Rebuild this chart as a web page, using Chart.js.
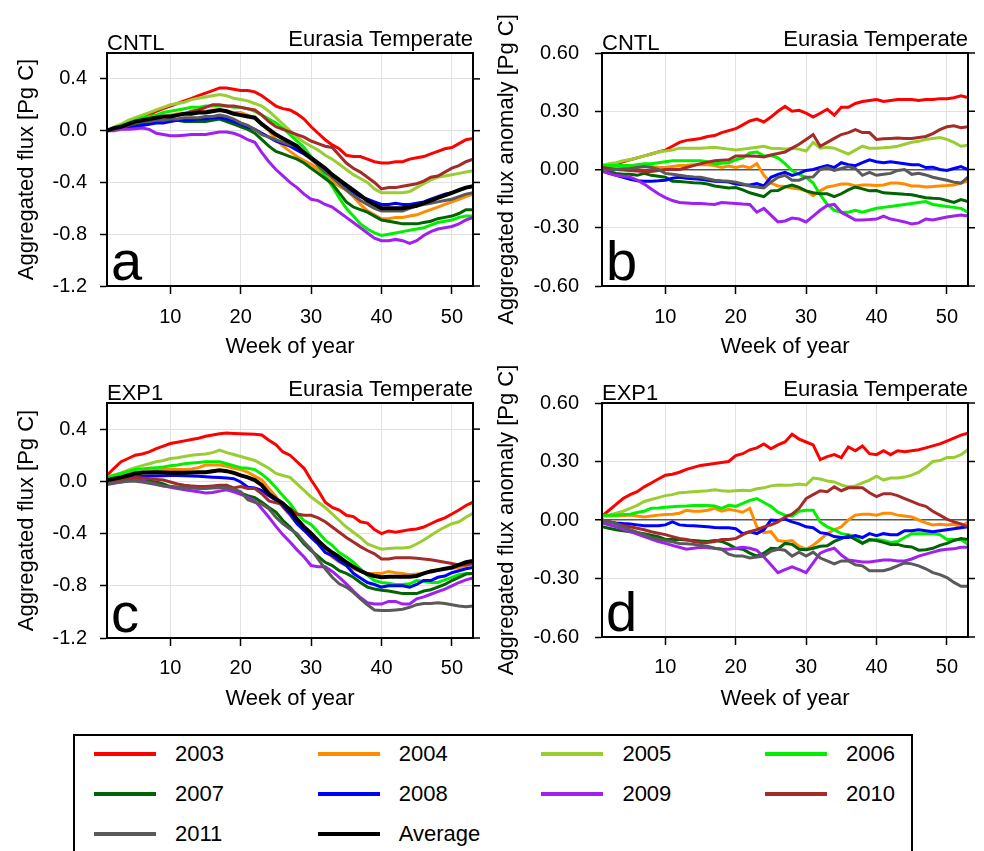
<!DOCTYPE html>
<html><head><meta charset="utf-8">
<script src="https://cdn.jsdelivr.net/npm/chart.js"></script>
<style>
html,body{margin:0;padding:0;background:#fff;}
body{width:984px;height:851px;position:relative;overflow:hidden;font-family:'Liberation Sans',Arial,sans-serif;}
.pc{position:absolute;width:492px;height:370px;}
#legend{position:absolute;left:73px;top:734px;width:840px;height:150px;border:2px solid #000;box-sizing:border-box;}
.sw{position:absolute;width:62px;height:4px;}
.lt{position:absolute;font-size:22px;line-height:26px;color:#000;white-space:nowrap;}
</style></head><body>
<div class="pc" style="left:0;top:0"><canvas id="ca" width="492" height="370"></canvas></div>
<div class="pc" style="left:492px;top:0"><canvas id="cb" width="492" height="370"></canvas></div>
<div class="pc" style="left:0;top:350px"><canvas id="cc" width="492" height="370"></canvas></div>
<div class="pc" style="left:492px;top:350px"><canvas id="cd" width="492" height="370"></canvas></div>
<div id="legend"></div>
<script>
const weeks = [1,2,3,4,5,6,7,8,9,10,11,12,13,14,15,16,17,18,19,20,21,22,23,24,25,26,27,28,29,30,31,32,33,34,35,36,37,38,39,40,41,42,43,44,45,46,47,48,49,50,51,52,53];
const names = ['2003','2004','2005','2006','2007','2008','2009','2010','2011','Average'];
const colors = ['#ff0000','#ff8c00','#9acd32','#00f000','#006400','#0000ff','#a020f0','#a52a2a','#5a5a5a','#000000'];
const weekTicks = [10,20,30,40,50];
const fluxTicks = [-1.2,-0.8,-0.4,0.0,0.4];
const anomTicks = [-0.6,-0.3,0.0,0.3,0.6];

// Panel a: CNTL aggregated flux
const a2003 = [0.00,0.02,0.04,0.06,0.08,0.10,0.12,0.15,0.17,0.19,
 0.21,0.23,0.25,0.27,0.29,0.31,0.33,0.33,0.32,0.31,
 0.31,0.30,0.27,0.23,0.19,0.17,0.16,0.13,0.09,0.03,
 -0.02,-0.07,-0.11,-0.14,-0.19,-0.20,-0.20,-0.22,-0.24,-0.25,
 -0.25,-0.24,-0.24,-0.22,-0.21,-0.20,-0.18,-0.16,-0.14,-0.13,
 -0.10,-0.07,-0.06];
const a2004 = [0.00,0.02,0.04,0.06,0.07,0.08,0.09,0.10,0.11,0.12,
 0.13,0.13,0.14,0.15,0.15,0.16,0.16,0.15,0.14,0.14,
 0.12,0.10,0.05,0.00,-0.07,-0.12,-0.16,-0.20,-0.23,-0.26,
 -0.30,-0.35,-0.39,-0.43,-0.46,-0.51,-0.57,-0.62,-0.65,-0.68,
 -0.68,-0.67,-0.67,-0.66,-0.65,-0.63,-0.61,-0.59,-0.57,-0.55,
 -0.53,-0.51,-0.49];
const a2005 = [0.00,0.03,0.05,0.08,0.10,0.12,0.14,0.16,0.18,0.20,
 0.21,0.22,0.24,0.25,0.26,0.27,0.28,0.27,0.25,0.24,
 0.23,0.21,0.19,0.15,0.10,0.05,0.00,-0.05,-0.09,-0.12,
 -0.15,-0.19,-0.22,-0.26,-0.30,-0.34,-0.37,-0.40,-0.45,-0.48,
 -0.48,-0.48,-0.48,-0.47,-0.44,-0.41,-0.38,-0.36,-0.35,-0.34,
 -0.33,-0.32,-0.31];
const a2006 = [0.00,0.02,0.04,0.06,0.08,0.10,0.11,0.12,0.14,0.15,
 0.16,0.17,0.18,0.18,0.19,0.19,0.19,0.19,0.18,0.18,
 0.17,0.15,0.12,0.09,0.06,0.02,-0.03,-0.08,-0.13,-0.20,
 -0.27,-0.35,-0.43,-0.52,-0.60,-0.66,-0.72,-0.76,-0.79,-0.81,
 -0.80,-0.79,-0.78,-0.77,-0.76,-0.75,-0.73,-0.71,-0.70,-0.69,
 -0.67,-0.66,-0.66];
const a2007 = [0.00,0.01,0.03,0.04,0.05,0.06,0.07,0.07,0.08,0.08,
 0.08,0.07,0.07,0.07,0.07,0.08,0.09,0.07,0.05,0.03,
 0.01,-0.02,-0.07,-0.12,-0.16,-0.18,-0.20,-0.22,-0.25,-0.29,
 -0.33,-0.37,-0.41,-0.48,-0.55,-0.59,-0.61,-0.63,-0.66,-0.69,
 -0.70,-0.71,-0.72,-0.72,-0.72,-0.71,-0.70,-0.68,-0.67,-0.66,
 -0.64,-0.61,-0.61];
const a2008 = [0.00,0.01,0.02,0.02,0.03,0.04,0.05,0.06,0.06,0.07,
 0.08,0.08,0.08,0.09,0.09,0.10,0.10,0.09,0.07,0.05,
 0.03,0.01,-0.02,-0.05,-0.08,-0.10,-0.12,-0.15,-0.18,-0.22,
 -0.26,-0.31,-0.36,-0.40,-0.44,-0.48,-0.51,-0.53,-0.55,-0.57,
 -0.57,-0.56,-0.57,-0.57,-0.56,-0.55,-0.53,-0.51,-0.49,-0.48,
 -0.46,-0.44,-0.43];
const a2009 = [0.00,0.00,0.01,0.01,0.015,0.02,0.01,-0.02,-0.03,-0.04,
 -0.04,-0.035,-0.03,-0.03,-0.03,-0.02,-0.01,-0.01,-0.02,-0.04,
 -0.07,-0.09,-0.17,-0.24,-0.30,-0.35,-0.40,-0.44,-0.49,-0.53,
 -0.54,-0.57,-0.59,-0.63,-0.67,-0.71,-0.75,-0.79,-0.83,-0.85,
 -0.85,-0.84,-0.85,-0.87,-0.85,-0.81,-0.78,-0.76,-0.75,-0.74,
 -0.72,-0.69,-0.67];
const a2010 = [0.00,0.01,0.03,0.05,0.07,0.08,0.09,0.10,0.11,0.11,
 0.12,0.13,0.15,0.16,0.18,0.20,0.20,0.19,0.19,0.18,
 0.17,0.16,0.12,0.07,0.03,0.01,-0.01,-0.03,-0.05,-0.08,
 -0.10,-0.12,-0.13,-0.19,-0.25,-0.29,-0.32,-0.36,-0.40,-0.45,
 -0.44,-0.44,-0.43,-0.42,-0.41,-0.39,-0.36,-0.35,-0.32,-0.29,
 -0.27,-0.24,-0.22];
const a2011 = [0.00,0.01,0.03,0.04,0.06,0.07,0.07,0.08,0.08,0.09,
 0.09,0.10,0.10,0.10,0.11,0.11,0.12,0.11,0.09,0.06,
 0.04,0.01,-0.03,-0.05,-0.07,-0.09,-0.11,-0.12,-0.17,-0.22,
 -0.27,-0.32,-0.36,-0.41,-0.46,-0.50,-0.54,-0.57,-0.60,-0.62,
 -0.62,-0.62,-0.62,-0.60,-0.58,-0.57,-0.56,-0.55,-0.54,-0.53,
 -0.51,-0.49,-0.48];
const aAvg = [0.00,0.02,0.03,0.05,0.07,0.08,0.09,0.10,0.11,0.11,
 0.12,0.13,0.13,0.14,0.14,0.15,0.16,0.15,0.13,0.12,
 0.11,0.10,0.05,0.01,-0.03,-0.06,-0.09,-0.12,-0.17,-0.21,
 -0.25,-0.29,-0.34,-0.38,-0.42,-0.46,-0.50,-0.54,-0.57,-0.60,
 -0.60,-0.60,-0.60,-0.59,-0.58,-0.56,-0.54,-0.52,-0.50,-0.48,
 -0.46,-0.44,-0.43];

// Panel b: CNTL aggregated flux anomaly
const b2003 = [0.02,0.025,0.03,0.04,0.05,0.06,0.07,0.08,0.09,0.10,
 0.12,0.14,0.15,0.155,0.16,0.17,0.175,0.19,0.20,0.21,
 0.23,0.25,0.26,0.245,0.27,0.30,0.325,0.30,0.305,0.29,
 0.27,0.29,0.31,0.28,0.32,0.32,0.34,0.35,0.355,0.36,
 0.35,0.355,0.36,0.36,0.36,0.355,0.36,0.36,0.365,0.365,
 0.37,0.38,0.37];
const b2004 = [0.02,0.015,0.015,0.01,0.01,0.012,0.015,0.015,0.012,0.01,
 0.015,0.02,0.022,0.025,0.025,0.025,0.02,0.01,0.018,0.01,
 0.018,0.008,0.03,-0.03,-0.07,-0.085,-0.088,-0.095,-0.10,-0.11,
 -0.135,-0.11,-0.09,-0.083,-0.075,-0.075,-0.085,-0.08,-0.08,-0.083,
 -0.08,-0.07,-0.07,-0.075,-0.085,-0.085,-0.09,-0.088,-0.085,-0.083,
 -0.08,-0.07,-0.06];
const b2005 = [0.02,0.03,0.035,0.045,0.05,0.06,0.07,0.08,0.09,0.095,
 0.10,0.11,0.11,0.11,0.11,0.112,0.115,0.11,0.105,0.10,
 0.105,0.11,0.115,0.12,0.11,0.108,0.105,0.11,0.105,0.095,
 0.14,0.11,0.115,0.11,0.095,0.08,0.10,0.12,0.11,0.11,
 0.112,0.115,0.12,0.13,0.14,0.145,0.155,0.16,0.165,0.155,
 0.14,0.12,0.125];
const b2006 = [0.02,0.02,0.02,0.02,0.02,0.025,0.03,0.03,0.035,0.04,
 0.045,0.045,0.045,0.045,0.045,0.04,0.03,0.032,0.035,0.05,
 0.06,0.085,0.09,0.07,0.072,0.06,0.03,-0.005,-0.025,-0.04,
 -0.07,-0.13,-0.18,-0.21,-0.22,-0.22,-0.21,-0.22,-0.21,-0.20,
 -0.195,-0.19,-0.185,-0.18,-0.175,-0.17,-0.165,-0.18,-0.185,-0.19,
 -0.195,-0.20,-0.22];
const b2007 = [0.0,-0.01,-0.02,-0.025,-0.025,-0.03,-0.02,-0.03,-0.035,-0.04,
 -0.06,-0.062,-0.065,-0.068,-0.07,-0.075,-0.085,-0.09,-0.095,-0.093,
 -0.105,-0.12,-0.13,-0.14,-0.11,-0.108,-0.09,-0.08,-0.092,-0.11,
 -0.12,-0.125,-0.125,-0.14,-0.125,-0.105,-0.09,-0.10,-0.11,-0.108,
 -0.12,-0.122,-0.125,-0.128,-0.13,-0.138,-0.145,-0.148,-0.15,-0.16,
 -0.17,-0.155,-0.165];
const b2008 = [-0.005,-0.02,-0.03,-0.04,-0.05,-0.058,-0.06,-0.06,-0.058,-0.055,
 -0.045,-0.04,-0.045,-0.048,-0.05,-0.055,-0.06,-0.062,-0.065,-0.075,
 -0.078,-0.08,-0.072,-0.085,-0.04,-0.025,-0.015,-0.03,-0.02,-0.005,
 0.0,0.01,0.02,0.01,0.035,0.025,0.02,0.035,0.05,0.04,
 0.035,0.04,0.035,0.03,0.025,0.025,0.01,0.012,0.0,-0.005,
 0.005,0.015,0.0];
const b2009 = [-0.01,-0.02,-0.03,-0.035,-0.04,-0.055,-0.075,-0.10,-0.125,-0.145,
 -0.16,-0.17,-0.172,-0.175,-0.175,-0.178,-0.18,-0.17,-0.172,-0.175,
 -0.178,-0.18,-0.22,-0.20,-0.235,-0.27,-0.265,-0.25,-0.255,-0.27,
 -0.24,-0.21,-0.185,-0.18,-0.22,-0.24,-0.26,-0.26,-0.258,-0.255,
 -0.24,-0.255,-0.262,-0.27,-0.28,-0.275,-0.255,-0.26,-0.252,-0.245,
 -0.24,-0.235,-0.24];
const b2010 = [0.01,0.005,0.0,-0.003,-0.005,-0.008,-0.01,-0.01,-0.005,0.0,
 0.0,0.0,0.01,0.02,0.03,0.038,0.045,0.048,0.05,0.07,
 0.07,0.07,0.068,0.065,0.075,0.082,0.09,0.11,0.13,0.155,
 0.18,0.12,0.14,0.16,0.18,0.19,0.205,0.19,0.19,0.155,
 0.158,0.16,0.162,0.16,0.16,0.165,0.17,0.185,0.205,0.22,
 0.225,0.215,0.22];
const b2011 = [-0.005,-0.003,0.0,0.003,0.005,0.01,0.015,0.01,0.0,-0.02,
 -0.025,-0.03,-0.035,-0.038,-0.04,-0.048,-0.055,-0.058,-0.06,-0.065,
 -0.075,-0.085,-0.09,-0.095,-0.065,-0.04,-0.03,-0.055,-0.055,-0.04,
 -0.038,0.0,0.01,-0.005,0.005,0.015,0.005,-0.03,-0.015,-0.03,
 -0.025,-0.02,-0.005,0.0,-0.025,-0.02,-0.028,-0.04,-0.048,-0.055,
 -0.065,-0.07,-0.04];

// Panel c: EXP1 aggregated flux
const c2003 = [0.045,0.10,0.15,0.175,0.20,0.21,0.225,0.25,0.27,0.29,
 0.30,0.31,0.32,0.33,0.345,0.355,0.365,0.37,0.367,0.365,
 0.362,0.36,0.355,0.315,0.28,0.225,0.20,0.15,0.10,0.01,
 -0.07,-0.16,-0.20,-0.22,-0.26,-0.27,-0.31,-0.32,-0.37,-0.40,
 -0.38,-0.39,-0.38,-0.37,-0.365,-0.35,-0.325,-0.30,-0.28,-0.25,
 -0.22,-0.185,-0.16];
const c2004 = [0.03,0.04,0.05,0.06,0.07,0.075,0.08,0.085,0.09,0.09,
 0.09,0.09,0.095,0.105,0.125,0.125,0.125,0.115,0.10,0.09,
 0.07,0.04,0.01,-0.055,-0.115,-0.20,-0.26,-0.325,-0.375,-0.43,
 -0.48,-0.53,-0.58,-0.62,-0.645,-0.67,-0.69,-0.705,-0.705,-0.705,
 -0.69,-0.70,-0.705,-0.715,-0.71,-0.705,-0.685,-0.68,-0.67,-0.665,
 -0.66,-0.645,-0.635];
const c2005 = [0.03,0.05,0.065,0.085,0.105,0.12,0.135,0.15,0.16,0.175,
 0.18,0.19,0.20,0.205,0.21,0.22,0.24,0.22,0.205,0.19,
 0.175,0.16,0.13,0.10,0.06,0.045,0.03,-0.02,-0.07,-0.12,
 -0.16,-0.20,-0.25,-0.30,-0.35,-0.39,-0.43,-0.48,-0.50,-0.52,
 -0.515,-0.51,-0.51,-0.505,-0.48,-0.45,-0.415,-0.38,-0.35,-0.325,
 -0.31,-0.275,-0.245];
const c2006 = [0.03,0.045,0.06,0.075,0.09,0.095,0.10,0.105,0.11,0.12,
 0.125,0.135,0.14,0.145,0.15,0.15,0.15,0.135,0.12,0.105,
 0.10,0.09,0.055,0.01,-0.05,-0.11,-0.17,-0.245,-0.30,-0.33,
 -0.39,-0.45,-0.49,-0.545,-0.58,-0.62,-0.67,-0.72,-0.76,-0.775,
 -0.78,-0.79,-0.79,-0.785,-0.76,-0.765,-0.775,-0.775,-0.755,-0.735,
 -0.715,-0.705,-0.705];
const c2007 = [-0.02,-0.01,0.0,0.005,0.01,0.005,0.0,-0.005,-0.02,-0.04,
 -0.045,-0.045,-0.045,-0.042,-0.04,-0.04,-0.04,-0.05,-0.065,-0.09,
 -0.11,-0.125,-0.16,-0.20,-0.235,-0.30,-0.35,-0.415,-0.48,-0.53,
 -0.575,-0.62,-0.645,-0.685,-0.705,-0.735,-0.775,-0.81,-0.825,-0.835,
 -0.84,-0.85,-0.86,-0.86,-0.86,-0.84,-0.83,-0.81,-0.79,-0.76,
 -0.735,-0.71,-0.705];
const c2008 = [0.01,0.015,0.02,0.025,0.035,0.037,0.04,0.04,0.042,0.045,
 0.045,0.042,0.04,0.038,0.035,0.032,0.03,0.025,0.02,-0.005,
 -0.045,-0.05,-0.07,-0.11,-0.145,-0.19,-0.25,-0.325,-0.375,-0.43,
 -0.48,-0.545,-0.57,-0.61,-0.645,-0.705,-0.74,-0.775,-0.79,-0.81,
 -0.80,-0.80,-0.80,-0.81,-0.79,-0.76,-0.76,-0.735,-0.725,-0.70,
 -0.685,-0.67,-0.66];
const c2009 = [-0.025,-0.015,-0.005,0.005,0.01,0.0,-0.01,-0.02,-0.035,-0.045,
 -0.055,-0.065,-0.072,-0.08,-0.09,-0.085,-0.075,-0.065,-0.08,-0.10,
 -0.12,-0.15,-0.21,-0.275,-0.345,-0.41,-0.465,-0.525,-0.58,-0.645,
 -0.655,-0.655,-0.69,-0.735,-0.785,-0.84,-0.89,-0.93,-0.94,-0.94,
 -0.92,-0.92,-0.94,-0.94,-0.90,-0.885,-0.865,-0.845,-0.825,-0.80,
 -0.775,-0.755,-0.74];
const c2010 = [0.0,0.005,0.01,0.02,0.03,0.025,0.02,0.015,0.01,-0.005,
 -0.02,-0.03,-0.035,-0.04,-0.04,-0.035,-0.03,-0.03,-0.05,-0.04,
 -0.055,-0.055,-0.095,-0.15,-0.165,-0.175,-0.21,-0.25,-0.26,-0.26,
 -0.28,-0.31,-0.35,-0.39,-0.43,-0.465,-0.50,-0.53,-0.555,-0.595,
 -0.595,-0.585,-0.585,-0.585,-0.59,-0.595,-0.60,-0.61,-0.62,-0.63,
 -0.64,-0.64,-0.63];
const c2011 = [-0.02,-0.01,-0.005,0.0,0.0,-0.005,-0.015,-0.025,-0.035,-0.04,
 -0.045,-0.05,-0.052,-0.055,-0.055,-0.052,-0.05,-0.05,-0.06,-0.08,
 -0.14,-0.16,-0.175,-0.21,-0.275,-0.325,-0.365,-0.40,-0.465,-0.52,
 -0.595,-0.67,-0.735,-0.785,-0.81,-0.85,-0.90,-0.945,-0.985,-0.99,
 -0.99,-0.985,-0.98,-0.965,-0.945,-0.935,-0.935,-0.93,-0.935,-0.945,
 -0.955,-0.96,-0.955];
const cAvg = [0.01,0.02,0.03,0.045,0.06,0.065,0.068,0.07,0.068,0.065,
 0.065,0.065,0.068,0.07,0.07,0.078,0.085,0.078,0.065,0.045,
 0.03,0.01,-0.03,-0.095,-0.135,-0.17,-0.22,-0.29,-0.35,-0.40,
 -0.455,-0.505,-0.545,-0.58,-0.62,-0.655,-0.685,-0.71,-0.725,-0.735,
 -0.73,-0.73,-0.73,-0.73,-0.725,-0.705,-0.69,-0.68,-0.67,-0.66,
 -0.64,-0.62,-0.61];

// Panel d: EXP1 aggregated flux anomaly
const d2003 = [0.02,0.05,0.08,0.11,0.13,0.145,0.17,0.19,0.21,0.23,
 0.235,0.245,0.26,0.27,0.28,0.285,0.29,0.295,0.30,0.33,
 0.34,0.36,0.37,0.39,0.365,0.385,0.40,0.44,0.415,0.40,
 0.385,0.31,0.325,0.335,0.32,0.375,0.355,0.38,0.34,0.335,
 0.355,0.335,0.355,0.35,0.355,0.36,0.37,0.38,0.39,0.405,
 0.42,0.435,0.445];
const d2004 = [0.02,0.02,0.02,0.022,0.025,0.02,0.015,0.02,0.025,0.028,
 0.03,0.035,0.05,0.045,0.045,0.05,0.06,0.045,0.055,0.048,
 0.04,0.06,-0.035,-0.065,-0.06,-0.105,-0.11,-0.105,-0.135,-0.15,
 -0.13,-0.10,-0.07,-0.05,-0.035,0.0,0.025,0.03,0.03,0.025,
 0.035,0.035,0.025,0.02,0.015,0.0,-0.015,-0.025,-0.022,-0.025,
 -0.022,-0.035,-0.01];
const d2005 = [0.02,0.025,0.035,0.045,0.06,0.075,0.095,0.105,0.115,0.125,
 0.13,0.14,0.142,0.145,0.148,0.15,0.155,0.15,0.148,0.15,
 0.152,0.15,0.16,0.165,0.175,0.18,0.178,0.18,0.185,0.18,
 0.215,0.21,0.20,0.195,0.18,0.17,0.175,0.19,0.205,0.225,
 0.205,0.215,0.215,0.22,0.23,0.245,0.27,0.30,0.305,0.32,
 0.32,0.335,0.36];
const d2006 = [0.025,0.025,0.025,0.028,0.03,0.038,0.045,0.06,0.062,0.065,
 0.068,0.07,0.072,0.075,0.075,0.075,0.072,0.06,0.075,0.07,
 0.085,0.10,0.11,0.09,0.07,0.04,0.025,0.02,0.045,0.05,
 0.05,-0.01,-0.035,-0.05,-0.07,-0.075,-0.085,-0.12,-0.105,-0.10,
 -0.105,-0.115,-0.11,-0.09,-0.07,-0.07,-0.07,-0.07,-0.075,-0.10,
 -0.10,-0.10,-0.125];
const d2007 = [-0.035,-0.042,-0.05,-0.055,-0.06,-0.065,-0.07,-0.078,-0.085,-0.10,
 -0.10,-0.10,-0.102,-0.105,-0.108,-0.11,-0.105,-0.11,-0.125,-0.145,
 -0.15,-0.17,-0.185,-0.17,-0.145,-0.148,-0.12,-0.125,-0.15,-0.152,
 -0.145,-0.135,-0.132,-0.11,-0.095,-0.08,-0.10,-0.12,-0.10,-0.105,
 -0.115,-0.125,-0.125,-0.135,-0.138,-0.155,-0.152,-0.145,-0.13,-0.12,
 -0.105,-0.095,-0.10];
const d2008 = [0.0,-0.01,-0.015,-0.018,-0.02,-0.025,-0.03,-0.03,-0.03,-0.025,
 -0.01,-0.025,-0.028,-0.03,-0.032,-0.035,-0.038,-0.04,-0.04,-0.045,
 -0.07,-0.06,-0.07,-0.05,0.0,-0.003,0.005,-0.01,-0.02,-0.035,
 -0.04,-0.065,-0.07,-0.085,-0.09,-0.09,-0.08,-0.09,-0.07,-0.08,
 -0.07,-0.075,-0.075,-0.055,-0.055,-0.05,-0.055,-0.06,-0.055,-0.05,
 -0.045,-0.04,-0.035];
const d2009 = [-0.015,-0.025,-0.035,-0.048,-0.06,-0.072,-0.085,-0.098,-0.11,-0.12,
 -0.13,-0.14,-0.15,-0.145,-0.14,-0.142,-0.145,-0.15,-0.15,-0.145,
 -0.14,-0.145,-0.155,-0.19,-0.23,-0.27,-0.255,-0.24,-0.255,-0.27,
 -0.22,-0.17,-0.155,-0.145,-0.18,-0.205,-0.21,-0.215,-0.215,-0.21,
 -0.205,-0.205,-0.21,-0.21,-0.20,-0.185,-0.175,-0.165,-0.155,-0.15,
 -0.148,-0.14,-0.14];
const d2010 = [0.0,-0.008,-0.02,-0.028,-0.035,-0.042,-0.05,-0.06,-0.068,-0.075,
 -0.085,-0.095,-0.10,-0.11,-0.115,-0.115,-0.11,-0.10,-0.10,-0.095,
 -0.075,-0.06,-0.05,-0.035,-0.025,-0.01,0.015,0.03,0.06,0.11,
 0.13,0.15,0.145,0.17,0.15,0.165,0.165,0.165,0.14,0.12,
 0.135,0.135,0.125,0.11,0.095,0.08,0.07,0.045,0.025,0.005,
 -0.01,-0.02,-0.035];
const d2011 = [0.0,-0.01,-0.02,-0.035,-0.05,-0.062,-0.075,-0.09,-0.098,-0.105,
 -0.112,-0.12,-0.122,-0.125,-0.13,-0.135,-0.145,-0.15,-0.175,-0.185,
 -0.185,-0.195,-0.19,-0.185,-0.16,-0.15,-0.155,-0.185,-0.165,-0.185,
 -0.165,-0.195,-0.21,-0.225,-0.21,-0.21,-0.23,-0.235,-0.26,-0.26,
 -0.26,-0.25,-0.235,-0.22,-0.225,-0.235,-0.25,-0.27,-0.28,-0.295,
 -0.32,-0.34,-0.34];

const FONT = "'Liberation Sans', Arial, Helvetica, sans-serif";

const framePlugin = {
  id: 'frame',
  afterDraw(chart, args, o) {
    const ctx = chart.ctx, a = chart.chartArea, y = chart.scales.y;
    ctx.save();
    ctx.strokeStyle = '#000';
    ctx.lineWidth = 2;
    ctx.strokeRect(a.left, a.top, a.right - a.left, a.bottom - a.top);
    ctx.lineWidth = 1.5;
    y.ticks.forEach(t => {
      const p = y.getPixelForValue(t.value);
      ctx.beginPath(); ctx.moveTo(a.right, p); ctx.lineTo(a.right + 7, p); ctx.stroke();
    });
    ctx.fillStyle = '#000';
    ctx.font = "22px " + FONT;
    ctx.textBaseline = 'alphabetic';
    ctx.textAlign = 'left';
    ctx.fillText(o.left, a.left, a.top - 3);
    ctx.textAlign = 'right';
    ctx.fillText(o.right, a.right, a.top - 7);
    ctx.font = "56px " + FONT;
    ctx.textAlign = 'left';
    ctx.fillText(o.letter, a.left + 4, a.bottom - 6);
    ctx.restore();
  }
};

function makePanel(id, series, yTicks, yMin, yMax, dec, yTitle, tag, letter, g) {
  const n = series.length;
  const datasets = series.map((vals, i) => ({
    label: names[i],
    data: weeks.map((w, k) => ({x: w, y: vals[k]})),
    borderColor: colors[i],
    backgroundColor: colors[i],
    borderWidth: names[i] === 'Average' ? 4 : 3,
    pointRadius: 0,
    tension: 0,
    fill: false,
    order: n - i
  }));
  const zero = g.zero;
  return new Chart(document.getElementById(id), {
    type: 'line',
    data: {datasets},
    options: {
      responsive: false, animation: false, devicePixelRatio: 1,
      layout: {padding: {top: g.padTop, right: g.padRight, left: 0, bottom: 0}},
      plugins: {
        legend: {display: false}, tooltip: {enabled: false},
        frame: {left: tag, right: 'Eurasia Temperate', letter: letter}
      },
      scales: {
        x: {
          type: 'linear', min: 1, max: 53,
          afterBuildTicks: s => { s.ticks = weekTicks.map(v => ({value: v})); },
          afterFit: s => { s.height = g.xHeight; },
          ticks: {font: {family: FONT, size: 20}, color: '#000', padding: g.xTickPad, maxRotation: 0, autoSkip: false, callback: v => String(v)},
          grid: {color: '#e2e2e2', lineWidth: 1, tickLength: 8, tickColor: '#000', tickWidth: 1.5},
          border: {display: true, color: '#000', width: 2},
          title: {display: true, text: 'Week of year', font: {family: FONT, size: 22}, color: '#000', padding: {top: 0, bottom: g.xTitlePad}}
        },
        y: {
          min: yMin, max: yMax,
          afterBuildTicks: s => { s.ticks = yTicks.map(v => ({value: v})); },
          afterFit: s => { s.width = g.yWidth; },
          ticks: {font: {family: FONT, size: 20}, color: '#000', padding: g.yTickPad, callback: v => Number(v).toFixed(dec)},
          grid: {
            color: c => (zero && c.tick && Math.abs(c.tick.value) < 1e-9) ? '#555' : '#e2e2e2',
            lineWidth: c => (zero && c.tick && Math.abs(c.tick.value) < 1e-9) ? 1.5 : 1,
            tickLength: 7, tickColor: '#000', tickWidth: 1.5
          },
          border: {display: true, color: '#000', width: 2},
          title: {display: true, text: yTitle, font: {family: FONT, size: 22}, color: '#000', padding: {top: g.yTitlePad, bottom: 0}}
        }
      }
    },
    plugins: [framePlugin]
  });
}

const gA = {padTop: 53, padRight: 19, yWidth: 107, xHeight: 84, yTickPad: 13, yTitlePad: 14, xTickPad: 11, xTitlePad: 10, zero: false};
const gB = {padTop: 53, padRight: 16, yWidth: 110, xHeight: 84, yTickPad: 16, yTitlePad: 2, xTickPad: 11, xTitlePad: 10, zero: true};
const gC = {padTop: 53, padRight: 19, yWidth: 107, xHeight: 82, yTickPad: 13, yTitlePad: 14, xTickPad: 10, xTitlePad: 8, zero: false};
const gD = {padTop: 53, padRight: 16, yWidth: 110, xHeight: 83, yTickPad: 16, yTitlePad: 2, xTickPad: 10, xTitlePad: 8, zero: true};

makePanel('ca', [a2003,a2004,a2005,a2006,a2007,a2008,a2009,a2010,a2011,aAvg], fluxTicks, -1.2, 0.6, 1, 'Aggregated flux [Pg C]', 'CNTL', 'a', gA);
makePanel('cb', [b2003,b2004,b2005,b2006,b2007,b2008,b2009,b2010,b2011], anomTicks, -0.6, 0.6, 2, 'Aggregated flux anomaly [Pg C]', 'CNTL', 'b', gB);
makePanel('cc', [c2003,c2004,c2005,c2006,c2007,c2008,c2009,c2010,c2011,cAvg], fluxTicks, -1.2, 0.6, 1, 'Aggregated flux [Pg C]', 'EXP1', 'c', gC);
makePanel('cd', [d2003,d2004,d2005,d2006,d2007,d2008,d2009,d2010,d2011], anomTicks, -0.6, 0.6, 2, 'Aggregated flux anomaly [Pg C]', 'EXP1', 'd', gD);

// Legend
const leg = document.getElementById('legend');
names.forEach((nm, i) => {
  const r = Math.floor(i / 4), c = i % 4;
  const sx = 19 + c * 223.7, cy = 18 + r * 40;
  const sw = document.createElement('div');
  sw.className = 'sw';
  sw.style.left = sx + 'px'; sw.style.top = (cy - 2) + 'px'; sw.style.background = colors[i];
  leg.appendChild(sw);
  const t = document.createElement('div');
  t.className = 'lt';
  t.textContent = nm;
  t.style.left = (sx + 81) + 'px'; t.style.top = (cy - 13) + 'px';
  leg.appendChild(t);
});
</script>
</body></html>
